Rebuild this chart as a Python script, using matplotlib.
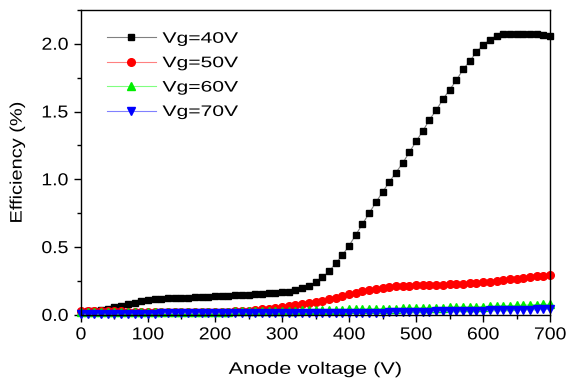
import matplotlib
matplotlib.use("Agg")
import matplotlib.pyplot as plt
from matplotlib.ticker import MultipleLocator, FormatStrFormatter
from matplotlib.patheffects import AbstractPathEffect
from matplotlib.transforms import Affine2D

plt.rcParams['font.family'] = ['Liberation Sans', 'DejaVu Sans']

# anode voltage, 0..700 V in 10 V steps
voltage = list(range(0, 701, 10))

eff_40 = [0.020, 0.025, 0.030, 0.035, 0.045, 0.055, 0.065, 0.080, 0.090, 0.100,
          0.110, 0.115, 0.120, 0.122, 0.124, 0.125, 0.127, 0.130, 0.132, 0.135,
          0.137, 0.140, 0.142, 0.145, 0.148, 0.150, 0.153, 0.156, 0.160, 0.163,
          0.166, 0.170, 0.180, 0.195, 0.215, 0.240, 0.276, 0.320, 0.380, 0.440,
          0.510, 0.590, 0.670, 0.750, 0.830, 0.906, 0.980, 1.050, 1.120, 1.200,
          1.280, 1.356, 1.440, 1.510, 1.590, 1.660, 1.730, 1.810, 1.870, 1.940,
          1.990, 2.030, 2.060, 2.070, 2.075, 2.075, 2.075, 2.070, 2.070, 2.065,
          2.060]

eff_50 = [0.030, 0.030, 0.030, 0.030, 0.028, 0.027, 0.025, 0.024, 0.022, 0.020,
          0.020, 0.020, 0.020, 0.020, 0.020, 0.020, 0.020, 0.020, 0.020, 0.020,
          0.020, 0.022, 0.024, 0.026, 0.028, 0.030, 0.035, 0.040, 0.045, 0.050,
          0.055, 0.062, 0.070, 0.078, 0.086, 0.095, 0.105, 0.115, 0.127, 0.140,
          0.155, 0.165, 0.175, 0.185, 0.193, 0.200, 0.205, 0.210, 0.213, 0.216,
          0.218, 0.220, 0.222, 0.223, 0.224, 0.225, 0.227, 0.230, 0.233, 0.236,
          0.240, 0.245, 0.250, 0.256, 0.262, 0.268, 0.274, 0.280, 0.285, 0.290,
          0.292]

eff_60 = [0.020, 0.022, 0.020, 0.023, 0.020, 0.022, 0.020, 0.021, 0.019, 0.020,
          0.020, 0.021, 0.020, 0.021, 0.021, 0.022, 0.022, 0.022, 0.023, 0.023,
          0.023, 0.024, 0.024, 0.025, 0.025, 0.026, 0.026, 0.027, 0.028, 0.029,
          0.030, 0.031, 0.032, 0.033, 0.034, 0.035, 0.036, 0.037, 0.038, 0.039,
          0.040, 0.041, 0.042, 0.043, 0.044, 0.045, 0.046, 0.047, 0.048, 0.049,
          0.050, 0.051, 0.052, 0.053, 0.054, 0.055, 0.056, 0.057, 0.058, 0.059,
          0.060, 0.062, 0.064, 0.066, 0.068, 0.070, 0.072, 0.074, 0.076, 0.077,
          0.078]

eff_70 = [0.005, 0.006, 0.006, 0.007, 0.007, 0.008, 0.008, 0.009, 0.009, 0.010,
          0.010, 0.010, 0.011, 0.011, 0.011, 0.012, 0.012, 0.012, 0.013, 0.013,
          0.013, 0.014, 0.014, 0.014, 0.015, 0.015, 0.015, 0.016, 0.016, 0.016,
          0.017, 0.017, 0.017, 0.017, 0.017, 0.017, 0.017, 0.017, 0.017, 0.017,
          0.017, 0.017, 0.017, 0.017, 0.017, 0.017, 0.018, 0.019, 0.020, 0.021,
          0.022, 0.023, 0.024, 0.025, 0.026, 0.027, 0.028, 0.029, 0.030, 0.031,
          0.032, 0.033, 0.034, 0.035, 0.036, 0.037, 0.038, 0.039, 0.040, 0.041,
          0.042]

labels = ['Vg=40V', 'Vg=50V', 'Vg=60V', 'Vg=70V']


class Stretch(AbstractPathEffect):
    """draw text wider than the font, like the wide Origin export"""
    def __init__(self, sx, anchor=0.5):
        super().__init__()
        self.sx = sx
        self.anchor = anchor

    def draw_path(self, renderer, gc, tpath, affine, rgbFace=None):
        ext = tpath.get_extents()
        x0 = ext.x0 + self.anchor * ext.width
        tr = Affine2D().translate(-x0, 0).scale(self.sx, 1).translate(x0, 0) + affine
        renderer.draw_path(gc, tpath, tr, rgbFace)


series = [
    (eff_40, 's', 'black', '#808080', 5),
    (eff_50, 'o', 'red', '#ff8080', 5.5),
    (eff_60, '^', '#00ee00', '#80ff80', 6),
    (eff_70, 'v', 'blue', '#8080ff', 6),
]

fig = plt.figure(figsize=(5.66, 3.78), dpi=100)
ax = fig.add_axes([0.143, 0.167, 0.829, 0.807])

for (vals, marker, c, lc, ms), label in zip(series, labels):
    ax.plot(voltage, vals, color=lc, lw=0.8, marker=marker, markersize=ms,
            markerfacecolor=c, markeredgecolor=c, label=label, clip_on=False)

ax.set_xlim(0, 700)
ax.set_ylim(0, 2.25)
ax.xaxis.set_major_locator(MultipleLocator(100))
ax.xaxis.set_minor_locator(MultipleLocator(50))
ax.yaxis.set_major_locator(MultipleLocator(0.5))
ax.yaxis.set_minor_locator(MultipleLocator(0.25))
ax.yaxis.set_major_formatter(FormatStrFormatter('%.1f'))
ax.tick_params(which='major', direction='out', length=5, width=1, labelsize=12.5, pad=4)
ax.tick_params(which='minor', direction='out', length=3, width=1)
for s in ax.spines.values():
    s.set_linewidth(1)

for t in ax.get_xticklabels():
    t.set_path_effects([Stretch(1.12, 0.5)])
for t in ax.get_yticklabels():
    t.set_path_effects([Stretch(1.12, 1.0)])

xl = ax.set_xlabel('Anode voltage (V)', fontsize=12, labelpad=14)
yl = ax.set_ylabel('Efficiency (%)', fontsize=12, labelpad=14)
xl.set_path_effects([Stretch(1.3, 0.5)])
yl.set_path_effects([Stretch(1.2, 0.5)])

leg = ax.legend(loc='upper left', bbox_to_anchor=(0.055, 0.928), frameon=False,
                fontsize=11, handlelength=3.2, handletextpad=0.45,
                labelspacing=0.68, borderpad=0, borderaxespad=0)
for t in leg.get_texts():
    t.set_path_effects([Stretch(1.38, 0.0)])

fig.savefig('out.png', dpi=100)
